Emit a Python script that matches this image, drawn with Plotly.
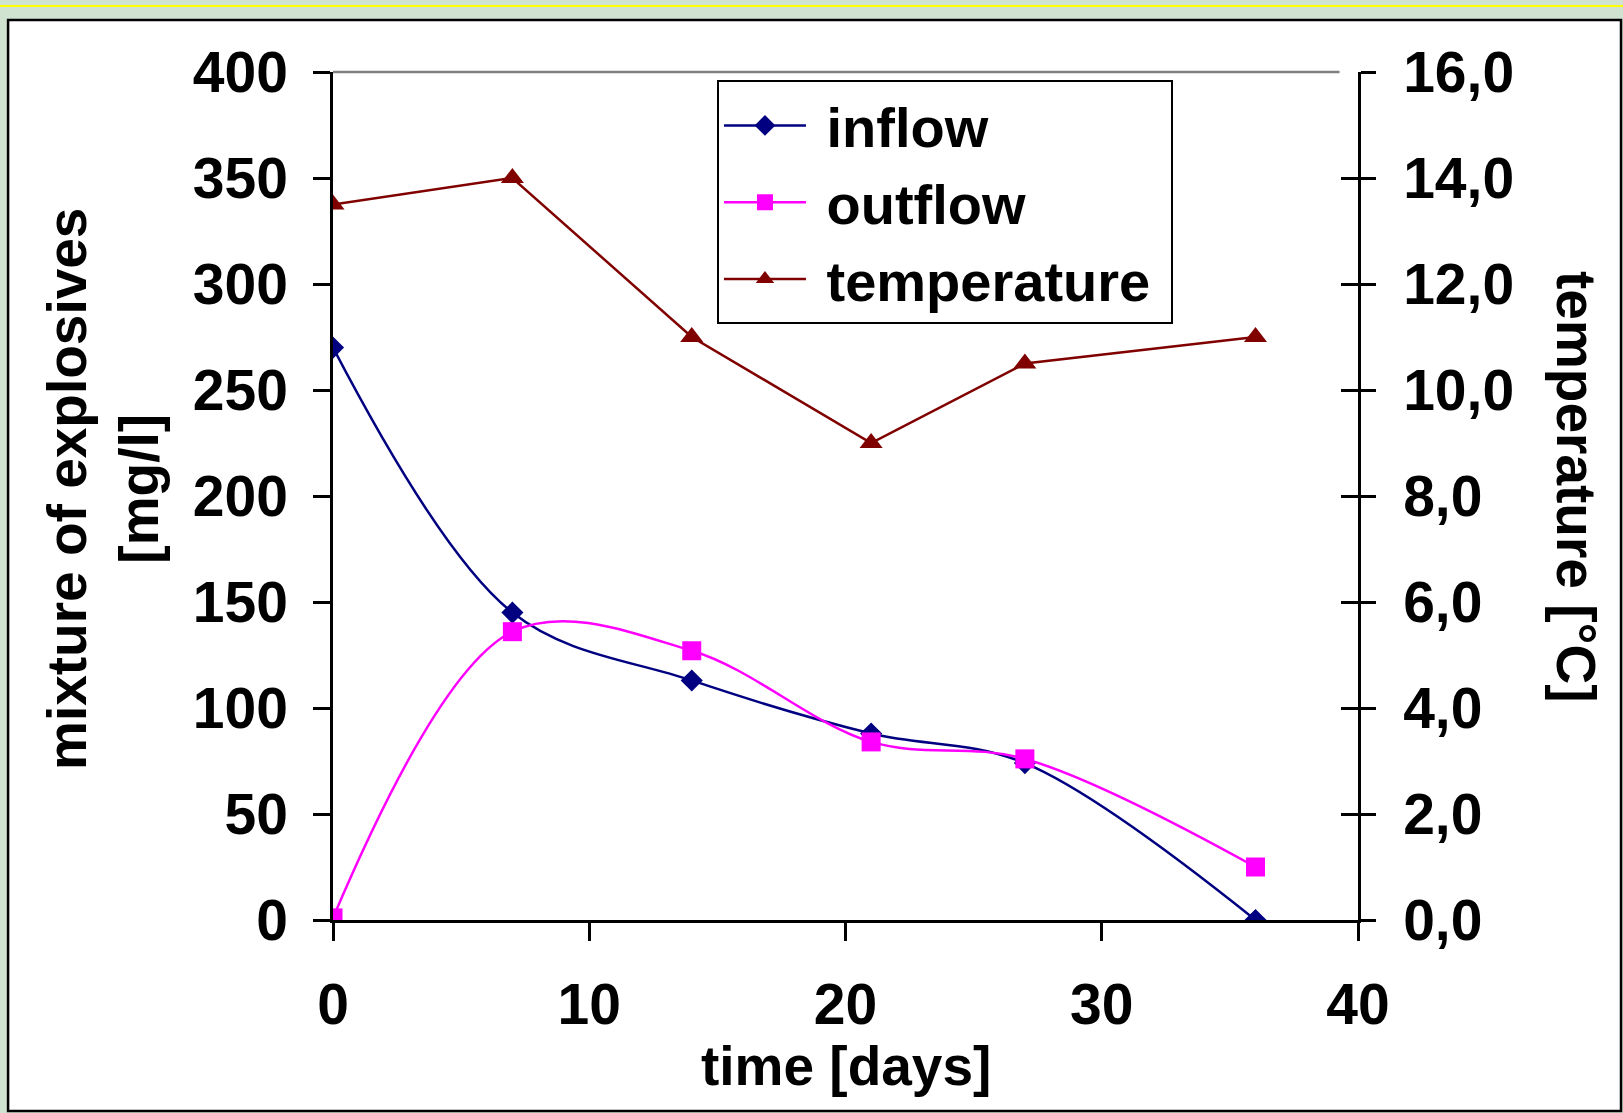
import plotly.graph_objects as go

# ---- data ----
days = [0, 7, 14, 21, 27, 36]
inflow = [270, 145, 113, 88, 74, 0]
outflow = [1, 136, 127, 84, 76, 25]
temperature = [13.5, 14.0, 11.0, 9.0, 10.5, 11.0]

x_ticks = [0, 10, 20, 30, 40]
y_ticks = [0, 50, 100, 150, 200, 250, 300, 350, 400]
y2_ticks = [0, 2, 4, 6, 8, 10, 12, 14, 16]

FONT = "Liberation Sans, Arial, sans-serif"
BIG = 55
NB = "\u00a0"

fig = go.Figure()
fig.add_trace(go.Scatter(
    x=days, y=inflow, name=NB + "inflow", mode="lines+markers",
    line=dict(color="#000080", width=2.5, shape="spline", smoothing=1),
    marker=dict(symbol="diamond", size=17, color="#000080"),
    legendgroup="a"))
fig.add_trace(go.Scatter(
    x=days, y=outflow, name=NB + "outflow", mode="lines+markers",
    line=dict(color="#ff00ff", width=2.5, shape="spline", smoothing=1),
    marker=dict(symbol="square", size=19, color="#ff00ff"),
    legendgroup="b"))
fig.add_trace(go.Scatter(
    x=days, y=temperature, name=NB + "temperature" + NB, mode="lines+markers",
    line=dict(color="#800000", width=2.5),
    marker=dict(symbol="triangle-up", size=20, color="#800000"),
    yaxis="y2", legendgroup="c"))
# invisible helper trace for inward ticks on right axis
fig.add_trace(go.Scatter(x=[None], y=[None], yaxis="y3", showlegend=False, hoverinfo="skip"))

tickfont = dict(family=FONT, size=57, color="black", weight="bold")

fig.update_layout(
    width=1623, height=1113,
    margin=dict(l=333, r=265, t=72, b=193),
    paper_bgcolor="#d0e3d0",
    plot_bgcolor="white",
    separators=",.",
    font=dict(family=FONT, color="black"),
    showlegend=True,
    xaxis=dict(range=[0, 40], tickvals=x_ticks, ticks="outside", ticklen=18, tickwidth=2.5,
               tickcolor="black", showline=True, linecolor="black", linewidth=2.5,
               showgrid=False, zeroline=False, tickfont=tickfont, ticklabelstandoff=15),
    yaxis=dict(range=[0, 400], tickvals=y_ticks, ticks="outside", ticklen=17, tickwidth=2.5,
               tickcolor="black", showline=True, linecolor="black", linewidth=2.5,
               showgrid=False, zeroline=False, tickfont=tickfont, ticklabelstandoff=14),
    yaxis2=dict(range=[0, 16], tickvals=y2_ticks, tickformat=".1f", overlaying="y", side="right",
                ticks="outside", ticklen=15, tickwidth=2.5, tickcolor="black",
                showline=True, linecolor="black", linewidth=2.5,
                showgrid=False, zeroline=False, tickfont=tickfont, ticklabelstandoff=16),
    yaxis3=dict(range=[0, 16], tickvals=y2_ticks, overlaying="y", side="right",
                ticks="inside", ticklen=17, tickwidth=2.5, tickcolor="black",
                showticklabels=False, showline=False, showgrid=False, zeroline=False),
    legend=dict(x=0.3746, y=0.99, xanchor="left", yanchor="top",
                bgcolor="white", bordercolor="black", borderwidth=2,
                font=dict(family=FONT, size=56, color="black", weight="bold"),
                itemwidth=82, tracegroupgap=1, traceorder="grouped"),
    shapes=[
        dict(type="rect", xref="paper", yref="paper", x0=-0.317, x1=1.2566, y0=-0.2252, y1=1.0613,
             line=dict(color="black", width=2.5), fillcolor="white", layer="below"),
        dict(type="line", xref="paper", yref="paper", x0=-0.33, x1=1.26, y0=1.0778, y1=1.0778,
             line=dict(color="#ffff00", width=2)),
        dict(type="line", xref="paper", yref="paper", x0=0, x1=0.982, y0=1, y1=1,
             line=dict(color="#808080", width=2.5)),
    ],
    annotations=[
        dict(text="time [days]", xref="paper", yref="paper", x=0.5, y=(920 - 1066) / 848,
             xanchor="center", yanchor="middle", showarrow=False,
             font=dict(family=FONT, size=BIG, color="black", weight="bold")),
        dict(text="mixture of explosives<br>[mg/l]", xref="paper", yref="paper",
             x=(103 - 333) / 1025, y=(920 - 489) / 848, textangle=-90,
             xanchor="center", yanchor="middle", showarrow=False,
             font=dict(family=FONT, size=BIG, color="black", weight="bold")),
        dict(text="temperature [°C]", xref="paper", yref="paper",
             x=(1576 - 333) / 1025, y=(920 - 487) / 848, textangle=90,
             xanchor="center", yanchor="middle", showarrow=False,
             font=dict(family=FONT, size=BIG, color="black", weight="bold")),
    ],
)

fig.write_html("out.html")
